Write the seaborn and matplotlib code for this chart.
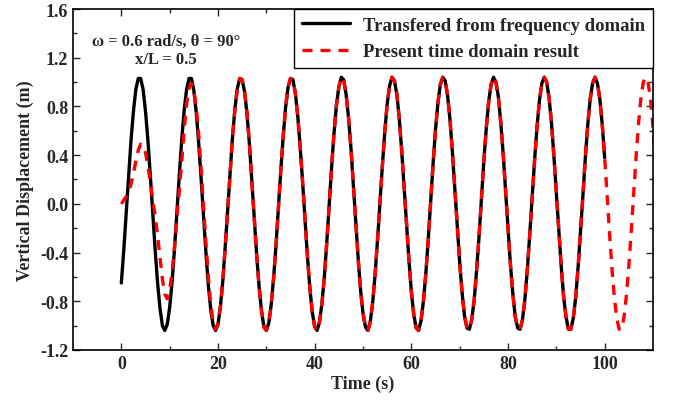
import numpy as np
import pandas as pd
import matplotlib
matplotlib.use("Agg")
import matplotlib.pyplot as plt
import seaborn as sns
from matplotlib.ticker import MultipleLocator, FixedLocator, FormatStrFormatter

# ---- data (values every 0.5 s) ----
sample_step_s = 0.5

# Transfered from frequency domain: t = 0 ... 100 s
black_disp = [
    -0.65, -0.38, -0.08, 0.23, 0.52, 0.76, 0.94, 1.03, 1.03, 0.94, 0.76, 0.52, 0.23, -0.08, -0.38, -0.65,
    -0.86, -1.00, -1.04, -0.99, -0.85, -0.64, -0.37, -0.06, 0.24, 0.53, 0.77, 0.94, 1.03, 1.03, 0.93, 0.75,
    0.50, 0.21, -0.10, -0.40, -0.67, -0.87, -1.00, -1.04, -0.99, -0.84,
    -0.63, -0.35, -0.05, 0.26, 0.55, 0.78, 0.95, 1.03, 1.02, 0.92, 0.74, 0.49, 0.19, -0.12, -0.42, -0.68,
    -0.88, -1.01, -1.04, -0.98, -0.83, -0.61, -0.34, -0.03, 0.28, 0.56, 0.80, 0.96, 1.03, 1.02, 0.91, 0.72,
    0.47, 0.18, -0.13, -0.43, -0.69, -0.89, -1.01, -1.04, -0.97, -0.82, -0.60, -0.32, -0.01, 0.30, 0.58, 0.81,
    0.96, 1.04, 1.02, 0.90, 0.71, 0.46, 0.16, -0.15, -0.45, -0.71, -0.90, -1.01, -1.04, -0.97, -0.81, -0.58,
    -0.30, 0.01, 0.31, 0.59, 0.82, 0.97, 1.04, 1.01, 0.90, 0.70, 0.44, 0.14, -0.17, -0.46, -0.72, -0.91,
    -1.02, -1.04, -0.96, -0.80, -0.57, -0.29, 0.02, 0.33, 0.61, 0.83, 0.98, 1.04, 1.01, 0.89, 0.69, 0.42,
    0.12, -0.19, -0.48, -0.73, -0.92, -1.02, -1.03, -0.95, -0.79, -0.55, -0.27, 0.04, 0.35, 0.62, 0.84, 0.98,
    1.04, 1.00, 0.88, 0.67, 0.41, 0.11, -0.20, -0.50, -0.74, -0.93, -1.02, -1.03, -0.95, -0.78, -0.54, -0.25,
    0.06, 0.36, 0.63, 0.85, 0.99, 1.04, 1.00, 0.87, 0.66, 0.39, 0.09, -0.22, -0.51, -0.76, -0.93, -1.03,
    -1.03, -0.94, -0.77, -0.52, -0.23, 0.07, 0.38, 0.65, 0.86, 0.99, 1.04, 0.99, 0.86, 0.65, 0.38,
]

# Present time domain result: t = 0 ... 110.5 s
red_disp = [
    0.00, 0.03, 0.06, 0.10, 0.16, 0.25, 0.35, 0.44, 0.49, 0.48, 0.42, 0.31, 0.18, 0.04, -0.10, -0.26,
    -0.44, -0.62, -0.74, -0.78, -0.71, -0.56, -0.35, -0.12, 0.12, 0.35, 0.61, 0.82, 0.95, 0.99, 0.93, 0.79,
    0.57, 0.29, -0.02, -0.32, -0.60, -0.83, -0.97, -1.03, -0.98, -0.85,
    -0.63, -0.35, -0.05, 0.26, 0.55, 0.78, 0.95, 1.03, 1.02, 0.92, 0.74, 0.49, 0.19, -0.12, -0.42, -0.68,
    -0.88, -1.01, -1.04, -0.98, -0.83, -0.61, -0.34, -0.03, 0.28, 0.56, 0.80, 0.96, 1.03, 1.02, 0.91, 0.72,
    0.47, 0.18, -0.13, -0.43, -0.69, -0.89, -1.01, -1.04, -0.97, -0.82, -0.60, -0.32, -0.01, 0.30, 0.58, 0.81,
    0.96, 1.04, 1.02, 0.90, 0.71, 0.46, 0.16, -0.15, -0.45, -0.71, -0.90, -1.01, -1.04, -0.97, -0.81, -0.58,
    -0.30, 0.01, 0.31, 0.59, 0.82, 0.97, 1.04, 1.01, 0.90, 0.70, 0.44, 0.14, -0.17, -0.46, -0.72, -0.91,
    -1.02, -1.04, -0.96, -0.80, -0.57, -0.29, 0.02, 0.33, 0.61, 0.83, 0.98, 1.04, 1.01, 0.89, 0.69, 0.42,
    0.12, -0.19, -0.48, -0.73, -0.92, -1.02, -1.03, -0.95, -0.79, -0.55, -0.27, 0.04, 0.35, 0.62, 0.84, 0.98,
    1.04, 1.00, 0.88, 0.67, 0.41, 0.11, -0.20, -0.50, -0.74, -0.93, -1.02, -1.03, -0.95, -0.78, -0.54, -0.25,
    0.06, 0.36, 0.63, 0.85, 0.99, 1.04, 1.00, 0.87, 0.66, 0.39, 0.09, -0.22, -0.51, -0.76, -0.93, -1.03,
    -1.03, -0.94, -0.77, -0.52, -0.23, 0.07, 0.38, 0.65, 0.86, 0.99, 1.04, 0.99, 0.86, 0.65, 0.38,
    0.07, -0.24, -0.53, -0.77, -0.94, -1.03, -1.03, -0.93, -0.75, -0.51, -0.22, 0.09, 0.39, 0.66, 0.87,
    1.00, 1.04, 0.99, 0.85, 0.63, 0.36,
]

series_names = ['Transfered from frequency domain', 'Present time domain result']
x_tick_values = [0, 20, 40, 60, 80, 100]
x_minor_values = [10, 30, 50, 70, 90]
annotation_lines = ['ω = 0.6 rad/s, θ = 90°', 'x/L = 0.5']

black_time = np.arange(len(black_disp)) * sample_step_s
red_time = np.arange(len(red_disp)) * sample_step_s

df = pd.concat([
    pd.DataFrame({'Time': black_time, 'Disp': black_disp, 'Series': series_names[0]}),
    pd.DataFrame({'Time': red_time, 'Disp': red_disp, 'Series': series_names[1]}),
], ignore_index=True)

sns.set_style("ticks")
plt.rcParams['font.family'] = ['Liberation Serif', 'DejaVu Serif']
plt.rcParams['font.weight'] = 'bold'
plt.rcParams['axes.unicode_minus'] = False

fig = plt.figure(figsize=(6.76, 4.02), dpi=100)
ax = fig.add_axes([0.108, 0.127, 0.858, 0.848])
sns.lineplot(data=df, x='Time', y='Disp', hue='Series', style='Series',
             palette={series_names[0]: 'black', series_names[1]: 'red'},
             dashes={series_names[0]: '', series_names[1]: (3, 2.4)},
             lw=2.4, ax=ax, sort=False, estimator=None)
ax.set_xlim(-10, 110)
ax.set_ylim(-1.2, 1.6)
ax.xaxis.set_major_locator(FixedLocator(x_tick_values))
ax.xaxis.set_minor_locator(FixedLocator(x_minor_values))
ax.yaxis.set_major_locator(MultipleLocator(0.4))
ax.yaxis.set_minor_locator(MultipleLocator(0.2))
ax.yaxis.set_major_formatter(FormatStrFormatter('%.1f'))
ax.tick_params(which='both', direction='in', top=True, right=True, labelsize=13)
ax.tick_params(which='major', length=5, width=1)
ax.tick_params(which='minor', length=3, width=1)
for s in ax.spines.values():
    s.set_linewidth(1.2)
    s.set_color('black')
ax.set_xlabel('Time (s)', fontsize=13, fontweight='bold', labelpad=2)
ax.set_ylabel('Vertical Displacement (m)', fontsize=13, fontweight='bold', labelpad=4)
ax.text(9.3, 1.34, annotation_lines[0], ha='center', va='center', fontsize=12, fontweight='bold')
ax.text(9.3, 1.19, annotation_lines[1], ha='center', va='center', fontsize=12, fontweight='bold')

handles, labels = ax.get_legend_handles_labels()
leg = ax.legend(handles, labels, loc='upper right', borderaxespad=0, fancybox=False,
                edgecolor='black', prop={'size': 13.5, 'weight': 'bold'},
                handlelength=2.6, handletextpad=0.7, framealpha=1, title=None)
leg.get_frame().set_linewidth(1)
for h in leg.get_lines():
    h.set_linewidth(2.4)

fig.savefig('out.png', dpi=100)
